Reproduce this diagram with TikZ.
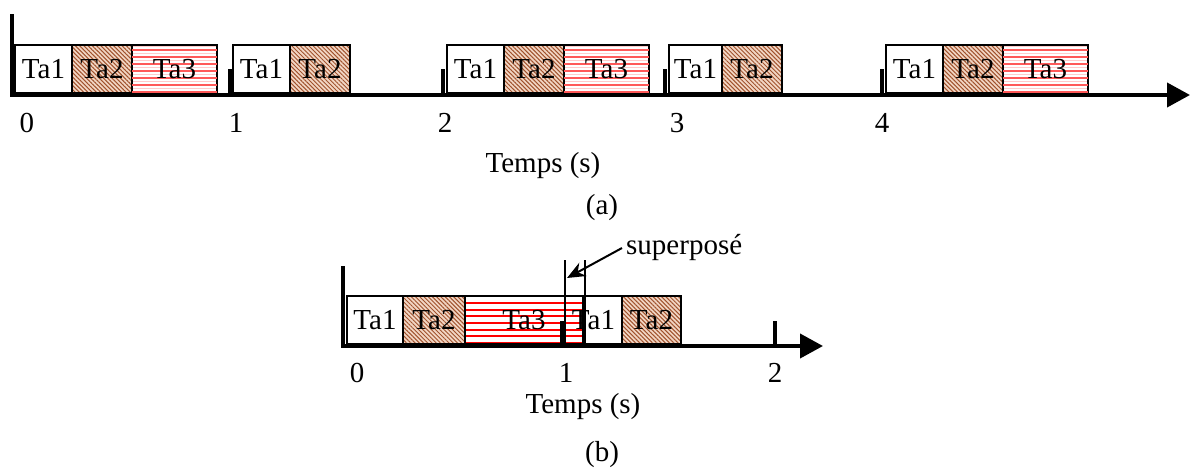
\documentclass[tikz,border=0pt]{standalone}
\usepackage{fontspec}
\setmainfont{Liberation Serif}
\usetikzlibrary{arrows.meta,positioning,patterns.meta}
\definecolor{HatchBrown}{HTML}{A0522D}
\definecolor{HatchTan}{HTML}{F2D6C4}

\begin{document}
\begin{tikzpicture}[x=1pt,y=-1pt,font=\fontsize{29}{30}\selectfont,
  box/.style={draw,line width=2pt,inner sep=0,outer sep=0,minimum height=48pt,anchor=south west},
  taone/.style={box,minimum width=57pt},
  tatwo/.style={box,minimum width=60pt,preaction={fill=HatchTan},pattern={Lines[angle=-45,distance=3pt,line width=1pt]},pattern color=HatchBrown},
  stripes/.style n args={3}{path picture={\foreach \k in {0,...,13}{\draw[#1,line width=#2] ([yshift={(1+\k*#3)*1pt}]path picture bounding box.south west) -- ([yshift={(1+\k*#3)*1pt}]path picture bounding box.south east);}}},
  tathree/.style={box,minimum width=85pt,stripes={red!20}{1pt}{3.5},postaction={stripes={red!65}{1.6pt}{7}}},
  tathreeb/.style={box,minimum width=118pt,stripes={red}{2pt}{6.7}},
  axis/.style={line width=4pt,-{Triangle[length=23pt,width=24pt]}},
  tick/.style={line width=4pt}]
  \useasboundingbox[fill=white] (0,0) rectangle (1190,471);
  % (a)
  \coordinate (ya) at (12,14);
  \coordinate (oa) at (12,95);
  \coordinate (ea) at (1190,95);
  \node[taone] (a1) at (15,93) {Ta1};
  \node[tatwo,right=0pt of a1] (a2) {Ta2};
  \node[tathree,right=0pt of a2] (a3) {Ta3};
  \node[taone] (b1) at (233,93) {Ta1};
  \node[tatwo,right=0pt of b1] (b2) {Ta2};
  \node[taone] (c1) at (447,93) {Ta1};
  \node[tatwo,right=0pt of c1] (c2) {Ta2};
  \node[tathree,right=0pt of c2] (c3) {Ta3};
  \node[taone,minimum width=53pt] (d1) at (669,93) {Ta1};
  \node[tatwo,right=0pt of d1] (d2) {Ta2};
  \node[taone] (e1) at (886,93) {Ta1};
  \node[tatwo,right=0pt of e1] (e2) {Ta2};
  \node[tathree,right=0pt of e2] (e3) {Ta3};
  \draw[axis] (ya) -- (oa) -- (ea);
  \foreach \x in {230,443,665,882}{\draw[tick] (\x,69) -- (\x,95);}
  \foreach \x/\t in {27/0,236/1,445/2,677/3,882/4}{\node (ta\t) at (\x,123) {\t};}
  \node (tempsa) at (543,166) {Temps (s)};
  \node (capa) at (602,208) {(a)};
  % (b)
  \coordinate (yb) at (343,266);
  \coordinate (ob) at (343,346);
  \coordinate (eb) at (823,346);
  \node[taone,minimum width=56pt] (f1) at (347,344) {Ta1};
  \node[tatwo,minimum width=62pt,right=0pt of f1] (f2) {Ta2};
  \node[tathreeb,right=0pt of f2] (f3) {Ta3};
  \node[taone] (g1) at (565,344) {Ta1};
  \node[tatwo,minimum width=59pt,right=0pt of g1] (g2) {Ta2};
  \draw[axis] (yb) -- (ob) -- (eb);
  \foreach \x in {562,775}{\draw[tick] (\x,321) -- (\x,346);}
  \coordinate (sl) at (565,260);
  \coordinate (sr) at (585,260);
  \draw[line width=1.5pt] (sl) -- (sl |- ob) (sr) -- (sr |- ob);
  \foreach \x/\t in {357/0,566/1,775/2}{\node (tb\t) at (\x,373) {\t};}
  \node (tempsb) at (583,407) {Temps (s)};
  \node (capb) at (602,455) {(b)};
  \node[anchor=west,inner sep=0] (sup) at (626,248) {superposé};
  \draw[line width=2pt,-{Stealth[length=18pt,width=15pt]}] (sup.west) ++(-4,0) coordinate (sa) (sa) -- (567,278);
\end{tikzpicture}
\end{document}
